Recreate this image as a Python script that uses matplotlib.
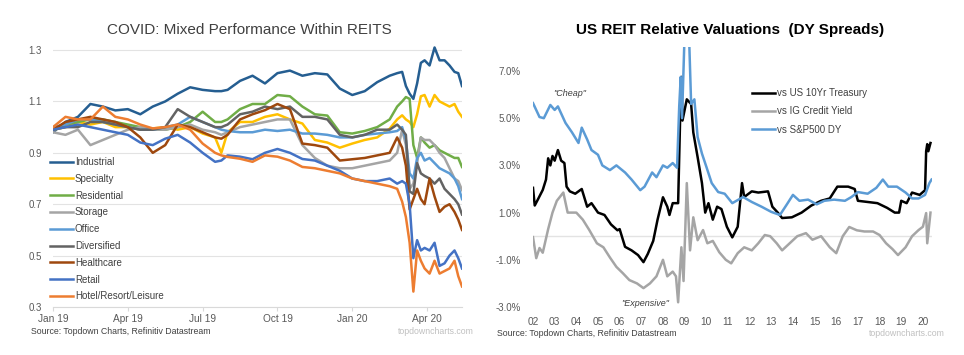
import matplotlib
matplotlib.use("Agg")
import matplotlib.pyplot as plt

plt.rcParams['font.family'] = ['Liberation Sans', 'DejaVu Sans']

# ---------------- Left chart data (months since Jan 2019) ----------------
months = [0, 0.5, 1, 1.5, 2, 2.5, 3, 3.5, 4, 4.5, 5, 5.5, 6, 6.5, 6.75,
          7, 7.5, 8, 8.5, 9, 9.5, 10, 10.5, 11, 11.5, 12, 12.5, 13, 13.5,
          13.8, 14.0, 14.15, 14.3, 14.45, 14.6, 14.75, 14.9, 15.1, 15.3,
          15.5, 15.7, 15.9, 16.1, 16.25, 16.4]
month_ticks = [0, 3, 6, 9, 12, 15]
month_labels = ['Jan 19', 'Apr 19', 'Jul 19', 'Oct 19', 'Jan 20', 'Apr 20']

industrial = [0.98, 1.02, 1.04, 1.09, 1.08, 1.065, 1.07, 1.05, 1.08, 1.10, 1.13, 1.155, 1.145, 1.14,
              1.14,
              1.145, 1.18, 1.20, 1.17, 1.21, 1.22, 1.20, 1.21, 1.205, 1.15, 1.125, 1.14, 1.175, 1.20,
              1.21, 1.215, 1.16, 1.13, 1.11, 1.17, 1.25, 1.26, 1.24, 1.31, 1.26, 1.26, 1.24, 1.215, 1.21, 1.16]
specialty = [0.99, 1.0, 1.02, 1.01, 1.02, 1.0, 1.0, 0.99, 0.995, 1.0, 0.99, 1.0, 0.975, 0.96,
             0.90,
             0.98, 1.02, 1.02, 1.04, 1.05, 1.03, 1.014, 0.95, 0.94, 0.92, 0.936, 0.95, 0.96, 0.994,
             1.03, 1.046, 1.03, 1.02, 1.0, 1.05, 1.12, 1.125, 1.08, 1.125, 1.10, 1.09, 1.08, 1.09, 1.06, 1.04]
residential = [0.99, 1.01, 1.02, 1.03, 1.03, 1.02, 1.01, 1.0, 0.99, 0.99, 1.0, 1.02, 1.06, 1.02,
               1.02,
               1.03, 1.07, 1.09, 1.09, 1.125, 1.12, 1.08, 1.05, 1.045, 0.98, 0.975, 0.985, 1.0, 1.03,
               1.08, 1.10, 1.117, 1.11, 0.93, 0.88, 0.96, 0.94, 0.92, 0.93, 0.91, 0.90, 0.89, 0.88, 0.88, 0.845]
storage = [0.98, 0.97, 0.99, 0.93, 0.95, 0.97, 0.99, 1.0, 0.99, 0.99, 1.0, 1.01, 0.99, 0.98,
           0.97,
           0.98, 1.0, 1.01, 1.02, 1.03, 1.03, 0.93, 0.88, 0.85, 0.84, 0.84, 0.85, 0.86, 0.87,
           0.90, 0.99, 0.93, 0.76, 0.78, 0.86, 0.96, 0.95, 0.95, 0.93, 0.90, 0.88, 0.84, 0.80, 0.79, 0.755]
office = [1.0, 1.01, 1.03, 1.03, 1.02, 1.01, 1.0, 0.99, 0.99, 1.0, 1.01, 1.04, 1.02, 1.0,
          0.99,
          0.985, 0.98, 0.98, 0.99, 0.985, 0.99, 0.975, 0.975, 0.97, 0.96, 0.96, 0.97, 0.975, 0.98,
          0.985, 1.0, 0.95, 0.82, 0.80, 0.88, 0.90, 0.87, 0.88, 0.86, 0.84, 0.83, 0.82, 0.80, 0.77, 0.72]
diversified = [0.99, 1.0, 1.0, 1.02, 1.02, 1.01, 1.0, 0.99, 0.99, 1.0, 1.07, 1.04, 1.02, 1.0,
               1.0,
               1.01, 1.05, 1.06, 1.08, 1.07, 1.08, 1.04, 1.04, 1.03, 0.97, 0.96, 0.97, 0.99, 0.99,
               1.01, 0.99, 0.97, 0.75, 0.74, 0.86, 0.82, 0.81, 0.80, 0.78, 0.80, 0.76, 0.74, 0.72, 0.70, 0.66]
healthcare = [0.99, 1.02, 1.03, 1.04, 1.03, 1.02, 1.0, 0.96, 0.90, 0.93, 1.01, 1.0, 0.98, 0.96,
              0.955,
              0.97, 1.03, 1.05, 1.066, 1.09, 1.07, 0.936, 0.93, 0.92, 0.87, 0.875, 0.88, 0.89, 0.90,
              0.96, 0.92, 0.85, 0.68, 0.72, 0.76, 0.72, 0.70, 0.80, 0.73, 0.67, 0.69, 0.70, 0.67, 0.64, 0.60]
retail = [0.99, 1.0, 1.01, 1.0, 0.99, 0.98, 0.97, 0.94, 0.93, 0.955, 0.97, 0.94, 0.90, 0.865,
          0.87,
          0.89, 0.885, 0.875, 0.90, 0.915, 0.90, 0.876, 0.87, 0.85, 0.83, 0.80, 0.79, 0.79, 0.80,
          0.78, 0.79, 0.78, 0.70, 0.49, 0.56, 0.52, 0.53, 0.52, 0.55, 0.46, 0.47, 0.50, 0.52, 0.49, 0.45]
hotel = [1.0, 1.04, 1.03, 1.03, 1.08, 1.04, 1.03, 1.01, 0.995, 1.0, 1.01, 0.99, 0.936, 0.90,
         0.89,
         0.884, 0.877, 0.865, 0.89, 0.885, 0.87, 0.845, 0.84, 0.83, 0.82, 0.80, 0.79, 0.78, 0.77,
         0.76, 0.71, 0.65, 0.55, 0.36, 0.52, 0.48, 0.45, 0.43, 0.48, 0.43, 0.44, 0.45, 0.48, 0.42, 0.38]

left_series = [
    ('Industrial', industrial, '#255E91'),
    ('Specialty', specialty, '#FFC000'),
    ('Residential', residential, '#70AD47'),
    ('Storage', storage, '#A5A5A5'),
    ('Office', office, '#5B9BD5'),
    ('Diversified', diversified, '#636363'),
    ('Healthcare', healthcare, '#9E480E'),
    ('Retail', retail, '#4472C4'),
    ('Hotel/Resort/Leisure', hotel, '#ED7D31'),
]
left_yticks = [0.3, 0.5, 0.7, 0.9, 1.1, 1.3]

# ---------------- Right chart data ----------------
t_10yr = [2002.0, 2002.08, 2002.25, 2002.45, 2002.6, 2002.7, 2002.8, 2002.9, 2003.0, 2003.15,
          2003.3, 2003.45, 2003.55, 2003.7, 2003.95, 2004.25, 2004.5, 2004.7, 2005.0, 2005.3,
          2005.6, 2005.9, 2006.0, 2006.25, 2006.55, 2006.85, 2007.1, 2007.3, 2007.55, 2007.75,
          2008.0, 2008.2, 2008.3, 2008.45, 2008.7, 2008.8, 2008.85, 2008.9, 2009.1, 2009.3,
          2009.4, 2009.6, 2009.8, 2009.95, 2010.1, 2010.3, 2010.5, 2010.7, 2010.95, 2011.2,
          2011.45, 2011.65, 2011.75, 2012.1, 2012.4, 2012.85, 2013.05, 2013.3, 2013.5, 2013.95,
          2014.4, 2014.85, 2015.3, 2015.7, 2016.05, 2016.55, 2016.85, 2017.0, 2017.45, 2017.9,
          2018.35, 2018.7, 2018.9, 2019.0, 2019.25, 2019.5, 2019.85, 2020.1, 2020.15, 2020.2,
          2020.25, 2020.35]
v_10yr = [2.05, 1.3, 1.6, 1.96, 2.4, 3.3, 3.0, 3.4, 3.2, 3.65,
          3.2, 3.1, 2.1, 1.9, 1.8, 2.0, 1.25, 1.4, 1.0, 0.9,
          0.5, 0.25, 0.3, -0.45, -0.6, -0.8, -1.1, -0.75, -0.2, 0.7,
          1.65, 1.25, 0.9, 1.4, 1.4, 5.3, 6.75, 4.9, 5.8, 5.6,
          4.4, 3.35, 2.25, 1.0, 1.4, 0.7, 1.25, 1.15, 0.4, -0.05,
          0.4, 2.25, 1.66, 1.9, 1.85, 1.9, 1.25, 1.0, 0.77, 0.8,
          1.0, 1.3, 1.5, 1.6, 2.1, 2.1, 2.0, 1.5, 1.45, 1.4,
          1.2, 1.0, 1.0, 1.5, 1.4, 1.85, 1.75, 1.95, 3.6, 3.9,
          3.6, 3.95]

t_ig = [2002.0, 2002.15, 2002.3, 2002.45, 2002.7, 2002.9, 2003.1, 2003.4, 2003.6, 2004.0,
        2004.3, 2004.6, 2004.95, 2005.25, 2005.55, 2005.85, 2006.15, 2006.45, 2006.8, 2007.1,
        2007.4, 2007.7, 2008.0, 2008.2, 2008.45, 2008.6, 2008.7, 2008.85, 2008.95, 2009.1,
        2009.25, 2009.4, 2009.6, 2009.85, 2010.05, 2010.3, 2010.6, 2010.9, 2011.15, 2011.45,
        2011.75, 2012.1, 2012.4, 2012.7, 2012.95, 2013.25, 2013.5, 2013.85, 2014.2, 2014.6,
        2014.9, 2015.3, 2015.7, 2016.0, 2016.3, 2016.6, 2016.95, 2017.3, 2017.7, 2018.0,
        2018.3, 2018.6, 2018.85, 2019.2, 2019.5, 2019.8, 2020.0, 2020.15, 2020.2, 2020.35]
v_ig = [-0.04, -0.93, -0.5, -0.7, 0.3, 1.0, 1.5, 1.85, 1.0, 1.0,
        0.7, 0.26, -0.3, -0.47, -0.9, -1.3, -1.57, -1.86, -2.0, -2.2,
        -2.0, -1.7, -1.0, -1.7, -1.5, -1.7, -2.8, -0.47, -1.9, 2.25,
        -0.6, 0.8, -0.17, 0.26, -0.3, -0.2, -0.68, -1.0, -1.15, -0.72,
        -0.47, -0.6, -0.3, 0.05, 0.0, -0.3, -0.6, -0.3, 0.0, 0.13,
        -0.15, 0.0, -0.47, -0.72, 0.0, 0.39, 0.25, 0.2, 0.2, 0.05,
        -0.3, -0.55, -0.8, -0.47, 0.0, 0.26, 0.4, 0.98, -0.3, 1.0]

t_spx = [2002.0, 2002.3, 2002.5, 2002.8, 2003.0, 2003.15, 2003.5, 2003.8, 2004.1, 2004.25,
         2004.5, 2004.7, 2005.0, 2005.2, 2005.55, 2005.85, 2006.25, 2006.55, 2006.95, 2007.15,
         2007.5, 2007.7, 2008.0, 2008.2, 2008.45, 2008.65, 2008.75, 2008.82, 2008.88, 2009.0,
         2009.2, 2009.3, 2009.45, 2009.6, 2009.8, 2010.0, 2010.25, 2010.55, 2010.85, 2011.2,
         2011.7, 2012.1, 2012.55, 2013.0, 2013.4, 2013.7, 2014.0, 2014.3, 2014.7, 2015.1,
         2015.45, 2015.9, 2016.4, 2016.7, 2017.0, 2017.45, 2017.85, 2018.15, 2018.4, 2018.8,
         2019.2, 2019.5, 2019.8, 2020.1, 2020.3, 2020.4]
v_spx = [5.64, 5.05, 5.0, 5.56, 5.35, 5.5, 4.8, 4.4, 3.95, 4.6,
         4.1, 3.65, 3.45, 3.0, 2.8, 3.0, 2.7, 2.4, 1.95, 2.1,
         2.7, 2.5, 3.0, 2.9, 3.1, 2.9, 5.5, 6.75, 5.0, 8.6,
         8.6, 5.6, 5.8, 4.2, 3.5, 2.95, 2.25, 1.87, 1.8, 1.4,
         1.66, 1.45, 1.25, 1.03, 0.9, 1.32, 1.75, 1.5, 1.55, 1.35,
         1.5, 1.55, 1.5, 1.66, 1.87, 1.8, 2.05, 2.4, 2.1, 2.1,
         1.85, 1.6, 1.6, 1.75, 2.25, 2.4]

right_years = list(range(2002, 2021))
right_year_labels = ['%02d' % (y % 100) for y in right_years]
right_yticks = [-3, -1, 1, 3, 5, 7]

# ---------------- Figure ----------------
W, H = 964, 355
fig = plt.figure(figsize=(W / 100, H / 100), dpi=100)


def fx(px):
    return px / W


def fy(py):
    return 1 - py / H


tick_color = '#595959'

# Left axes
axL = fig.add_axes([fx(53), fy(307), fx(462) - fx(53), fy(44.9) - fy(307)])
for name, vals, col in left_series:
    axL.plot(months, vals, color=col, lw=1.8, label=name, solid_joinstyle='round')
axL.set_xlim(0, 16.4)
axL.set_ylim(0.3, 1.32)
axL.set_yticks(left_yticks)
axL.set_yticklabels(['%.1f' % v for v in left_yticks])
axL.set_xticks(month_ticks)
axL.set_xticklabels(month_labels)
axL.grid(axis='y', color='#e3e3e3', lw=0.8)
axL.set_axisbelow(True)
for s in ['top', 'right', 'left']:
    axL.spines[s].set_visible(False)
axL.spines['bottom'].set_color('#d9d9d9')
axL.tick_params(axis='y', length=0, pad=8, labelsize=7, labelcolor=tick_color)
axL.tick_params(axis='x', length=3, color='#d9d9d9', pad=2, labelsize=7.3, labelcolor=tick_color)
axL.legend(loc='upper left', bbox_to_anchor=(fx(50), fy(157)), bbox_transform=fig.transFigure,
           frameon=False, fontsize=7, handlelength=2.4, handletextpad=0.15,
           labelspacing=0.7, borderaxespad=0, borderpad=0)
for t in axL.get_legend().get_texts():
    t.set_color('#404040')

fig.text(fx(249), fy(30), 'COVID: Mixed Performance Within REITS', ha='center', va='center',
         fontsize=11, color='#404040')
fig.text(fx(31), fy(332), 'Source: Topdown Charts, Refinitiv Datastream', ha='left', va='center',
         fontsize=6.3, color='#404040')
fig.text(fx(474), fy(332), 'topdowncharts.com', ha='right', va='center', fontsize=6.3, color='#c0c0c0')

# Right axes
axR = fig.add_axes([fx(533), fy(307), fx(932) - fx(533), fy(47.4) - fy(307)])
axR.axhline(0, color='#e3e3e3', lw=1.0, zorder=0)
axR.plot(t_10yr, v_10yr, color='black', lw=1.8, label='vs US 10Yr Treasury')
axR.plot(t_ig, v_ig, color='#A5A5A5', lw=1.8, label='vs IG Credit Yield')
axR.plot(t_spx, v_spx, color='#5B9BD5', lw=1.8, label='vs S&P500 DY')
axR.set_xlim(2002.0, 2020.42)
axR.set_ylim(-3, 8)
axR.set_xticks(right_years)
axR.set_xticklabels(right_year_labels)
axR.set_yticks(right_yticks)
axR.set_yticklabels(['%.1f%%' % v for v in right_yticks])
for s in axR.spines.values():
    s.set_visible(False)
axR.tick_params(axis='y', length=0, pad=9, labelsize=7, labelcolor=tick_color)
axR.tick_params(axis='x', length=0, pad=7, labelsize=7.3, labelcolor=tick_color)
axR.legend(loc='upper left', bbox_to_anchor=(fx(752), fy(88)), bbox_transform=fig.transFigure,
           frameon=False, fontsize=7, handlelength=2.4, handletextpad=0.15,
           labelspacing=0.85, borderaxespad=0, borderpad=0)
for t in axR.get_legend().get_texts():
    t.set_color('#404040')

fig.text(fx(570), fy(93), '"Cheap"', ha='center', va='center', fontsize=6.5,
         style='italic', color='#404040')
fig.text(fx(645), fy(303), '"Expensive"', ha='center', va='center', fontsize=6.5,
         style='italic', color='#404040')
fig.text(fx(730), fy(30), 'US REIT Relative Valuations  (DY Spreads)', ha='center', va='center',
         fontsize=11, fontweight='bold', color='black')
fig.text(fx(497), fy(333), 'Source: Topdown Charts, Refinitiv Datastream', ha='left', va='center',
         fontsize=6.3, color='#404040')
fig.text(fx(945), fy(333), 'topdowncharts.com', ha='right', va='center', fontsize=6.3, color='#c0c0c0')

fig.savefig('out.png', dpi=100)
